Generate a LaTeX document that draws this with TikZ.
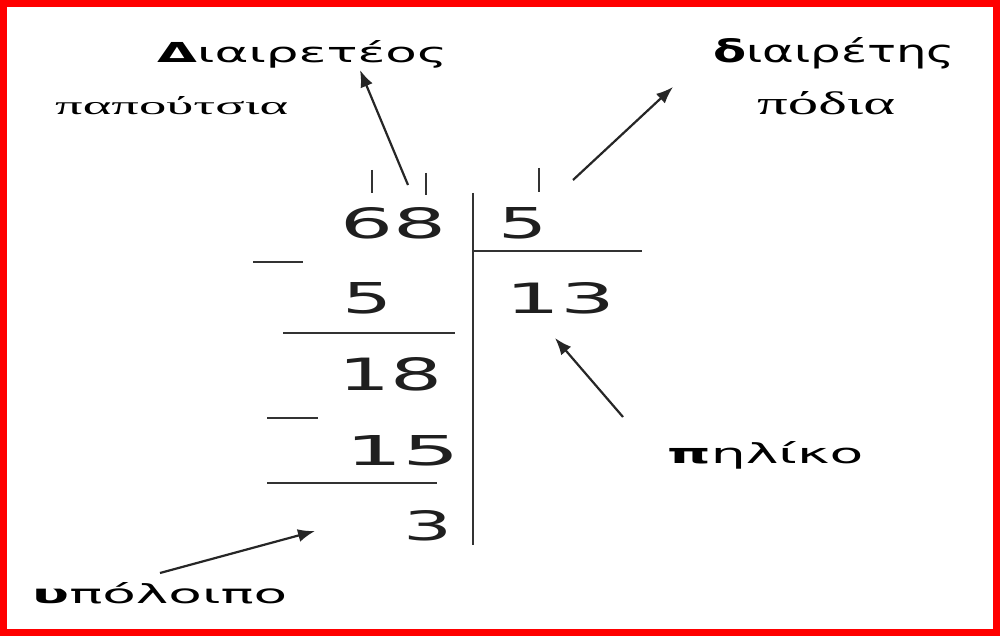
\documentclass[tikz,border=0pt]{standalone}
\usepackage{fontspec}
\usepackage{graphicx}
\usetikzlibrary{arrows.meta}
\setmainfont{DejaVu Sans}
\newfontfamily\serifgr{Liberation Serif}
\newcommand\fitbox[3]{\resizebox{#1pt}{#2pt}{#3}}
\tikzset{
  lbl/.style={inner sep=0pt, anchor=base west, text=black},
  digit/.style={inner sep=0pt, anchor=base west, text=black!88},
  rule/.style={draw=black!80, line width=2.2pt},
  tick/.style={draw=black!80, line width=2.4pt},
  pointer/.style={draw=black!85, line width=2.2pt, -{Latex[length=17pt,width=13pt]}},
}
\begin{document}
\begin{tikzpicture}[x=1pt,y=-1pt]
\useasboundingbox (0,0) rectangle (1000,636);
\fill[white] (0,0) rectangle (1000,636);
\draw[red, line width=7pt] (3.5,3.5) rectangle (996.5,632.5);

% labels
\node[lbl] (dividendlbl) at (157,63) {\fitbox{290}{22}{\textbf{Δ}ιαιρετέος}};
\node[lbl] (shoes) at (55,115) {\fitbox{233}{18}{\serifgr παπούτσια}};
\node[lbl] (divisorlbl) at (713,63) {\fitbox{242}{25}{\textbf{δ}ιαιρέτης}};
\node[lbl] (feet) at (757,115) {\fitbox{138}{23}{\serifgr πόδια}};
\node[lbl] (quotlbl) at (667,463) {\fitbox{196}{22}{\textbf{π}ηλίκο}};
\node[lbl] (remlbl) at (32,603) {\fitbox{255}{21}{\textbf{υ}πόλοιπο}};

% numbers
\node[digit] (n68) at (340,238) {\fitbox{106}{31}{68}};
\node[digit] (ndiv) at (498,238) {\fitbox{49}{31}{5}};
\node[digit] (n5) at (342,313) {\fitbox{50}{31}{5}};
\node[digit] (n13) at (505,313) {\fitbox{110}{31}{13}};
\node[digit] (n18) at (338,390) {\fitbox{104}{33}{18}};
\node[digit] (n15) at (345,465) {\fitbox{115}{30}{15}};
\node[digit] (n3) at (403,540) {\fitbox{49}{30}{3}};

% division frame
\draw[rule, line width=2.8pt] (473,193) -- (473,545);
\draw[rule] (473,251) -- (642,251);
\draw[rule] (253,262) -- (303,262);
\draw[rule] (283,333) -- (455,333);
\draw[rule] (267,418) -- (318,418);
\draw[rule] (267,483) -- (437,483);

% ticks
\draw[tick] (372,170) -- (372,193);
\draw[tick] (426,173) -- (426,195);
\draw[tick] (539,168) -- (539,192);

% arrows
\coordinate (a1s) at (408,185);
\coordinate (a1e) at (360,70);
\coordinate (a2s) at (573,180);
\coordinate (a2e) at (673,87);
\coordinate (a3s) at (623,417);
\coordinate (a3e) at (555,338);
\coordinate (a4s) at (160,573);
\coordinate (a4e) at (315,531);
\draw[pointer] (a1s) -- (a1e);
\draw[pointer] (a2s) -- (a2e);
\draw[pointer] (a3s) -- (a3e);
\draw[pointer] (a4s) -- (a4e);
\end{tikzpicture}
\end{document}
